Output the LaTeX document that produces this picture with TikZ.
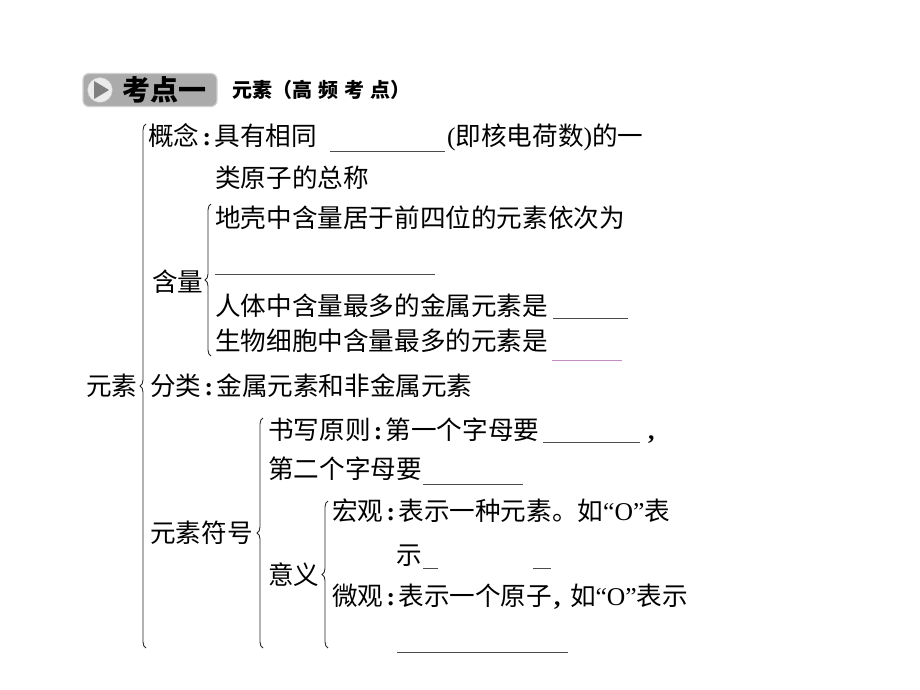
\documentclass[tikz,border=0pt]{standalone}
\usepackage{fontspec}
\setmainfont{Noto Sans CJK SC}
\newfontfamily\lat{Liberation Serif}
\newcommand\cln{\makebox[15pt][c]{\lat\bfseries :}}
\newcommand\cma{\makebox[18pt][l]{\kern2pt\lat\bfseries ,}}
\newcommand\qO{{\lat “O”}}
\usetikzlibrary{decorations.pathreplacing}
\begin{document}
\begin{tikzpicture}[x=1pt,y=-1pt,
  txt/.style={anchor=base west,inner sep=0pt,font=\fontsize{25.6}{25.6}\selectfont},
  blank/.style={draw=black!70,line width=0.9pt},
  brc/.style={draw=black!85,line width=0.9pt,decorate,decoration={brace,amplitude=6pt,aspect=#1}},
  brc/.default=0.5]
\useasboundingbox (0,0) rectangle (920,690);
% header
\node[draw=black!18,line width=1.2pt,fill=black!33,rounded corners=6pt,minimum width=134pt,minimum height=33pt,inner sep=0pt] (hbox) at (150,90) {};
\node[circle,fill=white!92!black,draw=black!25,minimum size=25pt,inner sep=0pt] (hcirc) at (100,90) {};
\fill[black!50] (94,81) -- (94,99) -- (109,90) -- cycle;
\node[anchor=west,inner sep=0pt,font=\fontsize{28}{28}\bfseries\selectfont] (kd) at (122,90) {考点一};
\node[anchor=west,inner sep=0pt,font=\fontsize{20}{20}\bfseries\selectfont] (ys) at (232,90) {元素};
\node[anchor=west,inner sep=0pt,font=\fontsize{20}{20}\bfseries\selectfont] (gp) at (272,90) {（高\kern6pt 频\kern6pt 考\kern6pt 点）};
% rows
\node[txt] (gn) at (148,146) {概念\cln 具有相同};
\node[txt] (gn2) at (447,146) {{\lat (}即核电荷数{\lat )}的一};
\node[txt] (gn3) at (215,187) {类原子的总称};
\node[txt] (hl) at (152,291) {含量};
\node[txt] (dk) at (215,227) {地壳中含量居于前四位的元素依次为};
\node[txt] (rt) at (215,315) {人体中含量最多的金属元素是};
\node[txt] (sw) at (215,350) {生物细胞中含量最多的元素是};
\node[txt] (ys2) at (86,395) {元素};
\node[txt] (fl) at (150,395) {分类\cln 金属元素和非金属元素};
\node[txt] (sx) at (268,439) {书写原则\cln 第一个字母要};
\node[txt] (cm) at (648,439) {{\lat\bfseries ,}};
\node[txt] (de) at (268,478) {第二个字母要};
\node[txt] (fh) at (150,542) {元素符号};
\node[txt] (yy) at (268,584) {意义};
\node[txt] (hg) at (332,520) {宏观\cln 表示一种元素。如\qO 表};
\node[txt] (sh) at (396,564) {示};
\node[txt] (wg) at (332,605) {微观\cln 表示一个原子\cma 如\qO 表示};
% blanks
\draw[blank] (330,151) -- (445,151);
\draw[blank] (215,274) -- (435,274);
\draw[blank] (553,318) -- (628,318);
\draw[draw=violet!45,line width=0.9pt] (552,360) -- (622,360);
\draw[blank] (543,442) -- (640,442);
\draw[blank] (423,484) -- (523,484);
\draw[blank] (423,568) -- (438,568);
\draw[blank] (533,568) -- (551,568);
\draw[blank] (397,652) -- (568,652);
% braces
\draw[brc=0.5] (146,648) -- (146,124);
\draw[brc=0.5] (211,356) -- (211,204);
\draw[brc=0.5] (263,648) -- (263,418);
\draw[brc=0.5] (328,648) -- (328,501);
\end{tikzpicture}
\end{document}
